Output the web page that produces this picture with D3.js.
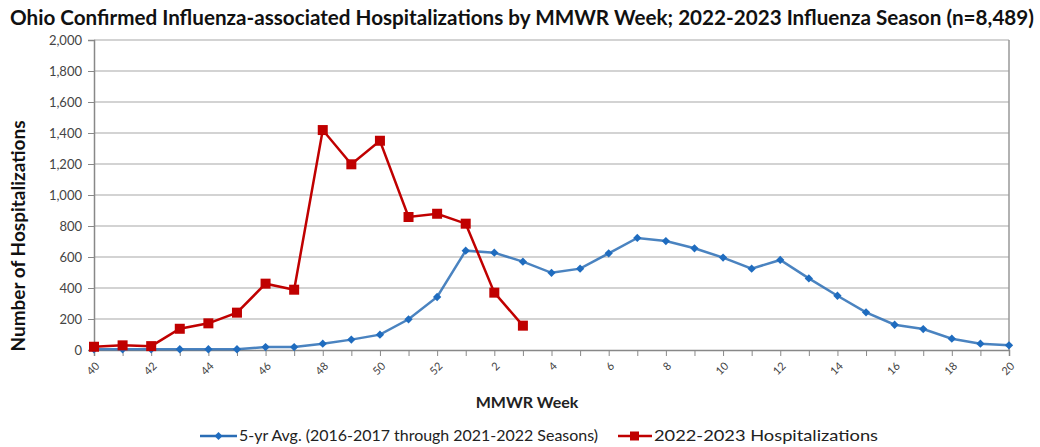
<!DOCTYPE html>
<html><head><meta charset="utf-8">
<script src="https://cdn.jsdelivr.net/npm/d3@7"></script>
<style>body{margin:0;background:#fff}svg{display:block}text{font-family:Lato,"Open Sans",sans-serif}</style>
</head><body><svg id="c" width="1040" height="447"></svg>
<script>
const weeks = ["40","41","42","43","44","45","46","47","48","49","50","51","52","1","2","3","4","5","6","7","8","9","10","11","12","13","14","15","16","17","18","19","20"];
const avg5yr = [5,5,5,5,5,5,19,19,41,67,99,198,342,641,628,570,498,525,624,723,703,656,596,525,581,462,350,243,163,135,73,41,30];
const season2223 = [21,30,25,137,172,241,428,389,1419,1198,1350,858,879,815,370,157];
const yTicks = [0,200,400,600,800,1000,1200,1400,1600,1800,2000];
const labelWeeks = ["40","42","44","46","48","50","52","2","4","6","8","10","12","14","16","18","20"];
const seriesNames = ["5-yr Avg. (2016-2017 through 2021-2022 Seasons)","2022-2023 Hospitalizations"];
const titleText = "Ohio Confirmed Influenza-associated Hospitalizations by MMWR Week; 2022-2023 Influenza Season (n=8,489)";

const svg = d3.select("#c");
const L=94,R=1009,T=40,B=350;
const x = d3.scalePoint().domain(weeks).range([L,R]);
const y = d3.scaleLinear().domain([0,2000]).range([B,T]);
const blue="#2a6db5", red="#c00000";

svg.append("text").attr("x",10).attr("y",25).attr("textLength",1024).attr("lengthAdjust","spacingAndGlyphs")
  .style("font-size","20px").style("font-weight","bold").attr("fill","#111").text(titleText);

// gridlines
svg.append("g").selectAll("line").data(yTicks.slice(1)).join("line")
  .attr("x1",L).attr("x2",R).attr("y1",d=>y(d)).attr("y2",d=>y(d)).attr("stroke","#c4c4c4").attr("stroke-width",1.3);
// right border
svg.append("line").attr("x1",R).attr("x2",R).attr("y1",T).attr("y2",B).attr("stroke","#999").attr("stroke-width",1.5);

// y axis
const ya = svg.append("g").attr("transform",`translate(${L},0)`)
  .call(d3.axisLeft(y).tickValues(yTicks).tickSize(6).tickPadding(6).tickFormat(d3.format(",")));
ya.select(".domain").attr("stroke","#888").attr("stroke-width",1.5);
ya.selectAll(".tick line").attr("stroke","#888");
ya.selectAll("text").style("font-size","13px").attr("fill","#444").style("font-family","Lato,sans-serif");

// x axis
const xa = svg.append("g").attr("transform",`translate(0,${B})`)
  .call(d3.axisBottom(x).tickSize(6).tickFormat(d=>labelWeeks.includes(d)&&weeks.indexOf(d)%2===0?d:""));
xa.select(".domain").attr("stroke","#888").attr("stroke-width",1.5);
xa.selectAll(".tick line").attr("stroke","#888");
xa.selectAll("text").style("font-size","11px").attr("fill","#444")
  .attr("text-anchor","end").attr("y",0).attr("dy","0.35em").attr("dx",0)
  .attr("transform","translate(3,14) rotate(-45)");

// axis titles
svg.append("text").attr("transform","translate(25,236) rotate(-90)").attr("text-anchor","middle")
  .style("font-size","19px").style("font-weight","bold").attr("fill","#111").text("Number of Hospitalizations");
svg.append("text").attr("x",527).attr("y",408).attr("text-anchor","middle")
  .style("font-size","16px").style("font-weight","bold").attr("fill","#222").text("MMWR Week");

const line = d3.line().x((d,i)=>x(weeks[i])).y(d=>y(d));
// blue
svg.append("path").datum(avg5yr).attr("d",line).attr("fill","none").attr("stroke",blue).attr("stroke-width",2.5).attr("opacity",0.85);
svg.append("g").selectAll("path").data(avg5yr).join("path")
  .attr("d",d3.symbol(d3.symbolDiamond2,44)).attr("transform",(d,i)=>`translate(${x(weeks[i])},${y(d)})`).attr("fill","#1f6cbf");
// red
svg.append("path").datum(season2223).attr("d",line).attr("fill","none").attr("stroke",red).attr("stroke-width",2.5);
svg.append("g").selectAll("rect").data(season2223).join("rect")
  .attr("x",(d,i)=>x(weeks[i])-5).attr("y",d=>y(d)-5).attr("width",10).attr("height",10).attr("fill",red);

// legend
const ly=436;
svg.append("line").attr("x1",200).attr("x2",237).attr("y1",ly).attr("y2",ly).attr("stroke",blue).attr("stroke-width",2.5);
svg.append("path").attr("d",d3.symbol(d3.symbolDiamond2,40)).attr("transform",`translate(218.5,${ly})`).attr("fill","#1f6cbf");
svg.append("text").attr("x",239).attr("y",ly+5).attr("textLength",359).attr("lengthAdjust","spacingAndGlyphs")
  .style("font-size","15px").attr("fill","#222").text(seriesNames[0]);
svg.append("line").attr("x1",618).attr("x2",652).attr("y1",ly).attr("y2",ly).attr("stroke",red).attr("stroke-width",2.5);
svg.append("rect").attr("x",630).attr("y",ly-4.5).attr("width",9).attr("height",9).attr("fill",red);
svg.append("text").attr("x",654).attr("y",ly+5).attr("textLength",224).attr("lengthAdjust","spacingAndGlyphs")
  .style("font-size","15px").attr("fill","#222").text(seriesNames[1]);
</script></body></html>
